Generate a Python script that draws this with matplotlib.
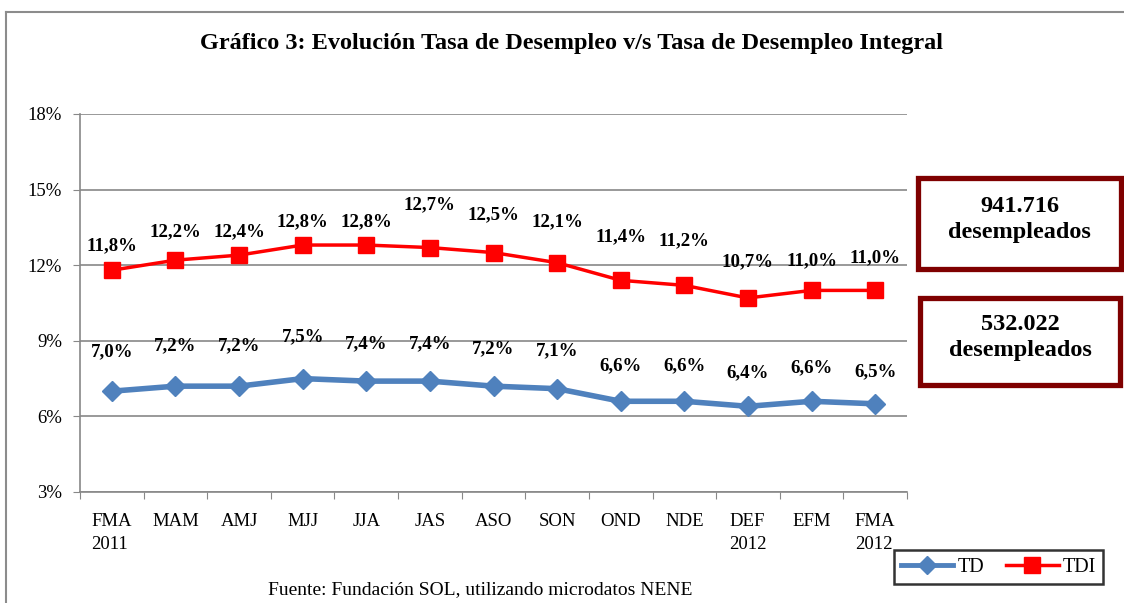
import matplotlib
matplotlib.use("Agg")
import matplotlib.pyplot as plt
from matplotlib.patches import Rectangle
from matplotlib.lines import Line2D

categories = ["FMA\n2011", "MAM", "AMJ", "MJJ", "JJA", "JAS", "ASO", "SON", "OND", "NDE", "DEF\n2012", "EFM", "FMA\n2012"]
td = [7.0, 7.2, 7.2, 7.5, 7.4, 7.4, 7.2, 7.1, 6.6, 6.6, 6.4, 6.6, 6.5]
tdi = [11.8, 12.2, 12.4, 12.8, 12.8, 12.7, 12.5, 12.1, 11.4, 11.2, 10.7, 11.0, 11.0]
yticks = [3, 6, 9, 12, 15, 18]

# label offsets (pixels above point)
tdi_off = [25, 28, 23, 23, 23, 43, 38, 41, 44, 45, 36, 30, 33]
td_off = [39, 40, 40, 42, 37, 37, 37, 38, 36, 36, 34, 34, 32]

plt.rcParams['font.family'] = ['Liberation Serif', 'DejaVu Serif']

W, H = 1124, 603
fig = plt.figure(figsize=(W / 100, H / 100), dpi=100)

# outer border (top and left only visible)
fig.add_artist(Line2D([6 / W, 1.0], [1 - 12 / H, 1 - 12 / H], transform=fig.transFigure,
                      color="#8c8c8c", linewidth=1.5))
fig.add_artist(Line2D([6 / W, 6 / W], [0, 1 - 12 / H], transform=fig.transFigure,
                      color="#8c8c8c", linewidth=1.5))

ax = fig.add_axes([80 / W, 1 - 492 / H, (907 - 80) / W, (492 - 114) / H])
x = list(range(len(categories)))

ax.plot(x, td, color="#4F81BD", linewidth=4, marker="D", markersize=10,
        markerfacecolor="#4F81BD", markeredgecolor="#4F81BD", zorder=3)
ax.plot(x, tdi, color="#FF0000", linewidth=2.5, marker="s", markersize=11,
        markerfacecolor="#FF0000", markeredgecolor="#FF0000", zorder=3)

for i in x:
    ax.annotate(f"{tdi[i]:.1f}%".replace(".", ","), (i, tdi[i]),
                xytext=(0, tdi_off[i] * 0.72), textcoords="offset points",
                ha="center", va="center", fontsize=13.6, fontweight="bold")
    ax.annotate(f"{td[i]:.1f}%".replace(".", ","), (i, td[i]),
                xytext=(0, td_off[i] * 0.72), textcoords="offset points",
                ha="center", va="center", fontsize=13.6, fontweight="bold")

ax.set_xlim(-0.5, len(categories) - 0.5)
ax.set_ylim(3, 18)
ax.set_yticks(yticks)
ax.set_yticklabels([f"{v}%" for v in yticks], fontsize=13.5)
ax.yaxis.grid(True, color="#888888", linewidth=1.2)
ax.set_axisbelow(True)

ax.set_xticks([i - 0.5 for i in range(len(categories) + 1)])
ax.set_xticklabels([])
ax.set_xticks(x, minor=True)
ax.set_xticklabels(categories, minor=True, fontsize=13.5, va="top", linespacing=1.45)
ax.tick_params(axis="x", which="minor", length=0, pad=15)
ax.tick_params(axis="x", which="major", length=5, color="#888888", direction="out")
ax.tick_params(axis="y", length=5, color="#888888", direction="out", pad=8)
for lab in ax.get_xticklabels(minor=True):
    lab.set_multialignment("left")

for s in ["top", "right"]:
    ax.spines[s].set_visible(False)
for s in ["left", "bottom"]:
    ax.spines[s].set_color("#888888")
    ax.spines[s].set_linewidth(1.2)

fig.text(572 / W, 1 - 43 / H, "Gráfico 3: Evolución Tasa de Desempleo v/s Tasa de Desempleo Integral",
         ha="center", va="center", fontsize=17.5, fontweight="bold")

fig.text(480 / W, 1 - 590 / H, "Fuente: Fundación SOL, utilizando microdatos NENE",
         ha="center", va="center", fontsize=14)

# boxes
for (x0, y0, x1, y1, txt) in [(918, 178, 1121, 269, "941.716\ndesempleados"),
                              (920, 298, 1120, 385, "532.022\ndesempleados")]:
    fig.patches.append(Rectangle((x0 / W, 1 - y1 / H), (x1 - x0) / W, (y1 - y0) / H,
                                 transform=fig.transFigure, facecolor="white",
                                 edgecolor="#7F0000", linewidth=3.8))
    fig.text((x0 + x1) / 2 / W, 1 - ((y0 + y1) / 2 - 4) / H, txt, ha="center", va="center",
             fontsize=17.5, fontweight="bold", linespacing=1.3)

handles = [Line2D([], [], color="#4F81BD", linewidth=3.5, marker="D", markersize=9),
           Line2D([], [], color="#FF0000", linewidth=2.5, marker="s", markersize=11)]
leg = fig.legend(handles, ["TD", "TDI"], loc="center",
                 bbox_to_anchor=((896 + 1101) / 2 / W, 1 - 567 / H),
                 ncol=2, frameon=True, fancybox=False, fontsize=14.5,
                 handlelength=2.6, columnspacing=1.1, borderpad=0.35, handletextpad=0.2,
                 borderaxespad=0)
leg.get_frame().set_edgecolor("black")
leg.get_frame().set_linewidth(1.8)

fig.savefig("out.png", dpi=100)
